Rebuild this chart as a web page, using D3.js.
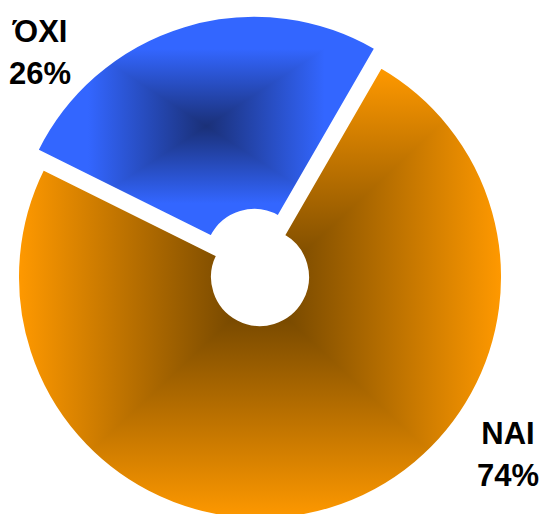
<!DOCTYPE html>
<html>
<head>
<meta charset="utf-8">
<script src="https://cdn.jsdelivr.net/npm/d3@7"></script>
<style>
  html, body { margin: 0; padding: 0; background: #fff; }
  svg { display: block; }
  .pie__label {
    font-family: "Liberation Sans", Arial, sans-serif;
    font-weight: bold;
    font-size: 31px;
    fill: #000;
    text-anchor: middle;
  }
</style>
</head>
<body>
<div id="chart"></div>
<script>
// Chart data
const categories = ["ΝΑΙ", "ΌΧΙ"];
const values = [74, 26];
const explodedSlices = ["ΌΧΙ"];

// Slice colours: light at the bounding box edges, dark in the middle
const edgeColors = { "ΝΑΙ": "#ff9900", "ΌΧΙ": "#3366ff" };
const centerColors = { "ΝΑΙ": "#684000", "ΌΧΙ": "#1a3078" };
// offset where the gradient reaches the edge colour
const edgeStop = { "ΝΑΙ": 1, "ΌΧΙ": 0.7 };

// Layout
const width = 541, height = 514;
const center = { x: 260, y: 277 };
const outerRadius = 242, innerRadius = 48;
const explodeOffset = 20;
const firstAngle = 30 * Math.PI / 180;

// Label anchors (the labels were placed by hand in the original)
const labelPos = {
  "ΝΑΙ": { x: 508, y: 444 },
  "ΌΧΙ": { x: 40, y: 42 }
};
const lineStep = 42;

const total = d3.sum(values);
const data = categories.map((c, i) => ({ name: c, value: values[i] }));

const svg = d3.select("#chart")
  .append("svg")
  .attr("width", width)
  .attr("height", height);

const defs = svg.append("defs");

const pie = d3.pie()
  .sort(null)
  .value(d => d.value)
  .startAngle(firstAngle)
  .endAngle(firstAngle + 2 * Math.PI);

const arc = d3.arc()
  .innerRadius(innerRadius)
  .outerRadius(outerRadius);

const gPie = svg.append("g")
  .attr("transform", `translate(${center.x},${center.y})`);

const arcs = pie(data);

arcs.forEach((d, i) => {
  const name = d.data.name;
  const mid = (d.startAngle + d.endAngle) / 2;
  const off = explodedSlices.includes(name) ? explodeOffset : 0;
  const g = gPie.append("g")
    .attr("transform", `translate(${Math.sin(mid) * off},${-Math.cos(mid) * off})`);

  // Clip path of the slice
  const clipId = "clip-" + i;
  defs.append("clipPath").attr("id", clipId)
    .append("path").attr("d", arc(d));

  // measure the slice
  const tmp = g.append("path").attr("d", arc(d)).attr("fill", "none");
  const bb = tmp.node().getBBox();
  tmp.remove();

  // Rectangular "from centre" gradient: four triangles, each with a linear gradient
  const x0 = bb.x, y0 = bb.y, x1 = bb.x + bb.width, y1 = bb.y + bb.height;
  const cx = (x0 + x1) / 2, cy = (y0 + y1) / 2;
  const tris = [
    { pts: [[x0, y0], [x1, y0], [cx, cy]], to: [cx, y0] },
    { pts: [[x1, y0], [x1, y1], [cx, cy]], to: [x1, cy] },
    { pts: [[x1, y1], [x0, y1], [cx, cy]], to: [cx, y1] },
    { pts: [[x0, y1], [x0, y0], [cx, cy]], to: [x0, cy] }
  ];

  const gFill = g.append("g").attr("clip-path", `url(#${clipId})`);

  // base fill so no seams show between the triangles
  gFill.append("rect")
    .attr("x", x0).attr("y", y0)
    .attr("width", bb.width).attr("height", bb.height)
    .attr("fill", d3.interpolateRgb(centerColors[name], edgeColors[name])(0.5));

  tris.forEach((t, j) => {
    const gradId = `grad-${i}-${j}`;
    const grad = defs.append("linearGradient")
      .attr("id", gradId)
      .attr("gradientUnits", "userSpaceOnUse")
      .attr("x1", cx).attr("y1", cy)
      .attr("x2", t.to[0]).attr("y2", t.to[1]);
    grad.append("stop").attr("offset", 0).attr("stop-color", centerColors[name]);
    grad.append("stop").attr("offset", edgeStop[name]).attr("stop-color", edgeColors[name]);
    gFill.append("path")
      .attr("d", d3.line()(t.pts) + "Z")
      .attr("fill", `url(#${gradId})`)
      .attr("shape-rendering", "crispEdges");
  });

  // White separator edge
  g.append("path")
    .attr("d", arc(d))
    .attr("fill", "none")
    .attr("stroke", "#fff")
    .attr("stroke-width", 2);
});

// Labels
arcs.forEach(d => {
  const p = labelPos[d.data.name];
  const pct = Math.round(d.value / total * 100) + "%";
  const t = svg.append("text")
    .attr("class", "pie__label");
  t.append("tspan").attr("x", p.x).attr("y", p.y).text(d.data.name);
  t.append("tspan").attr("x", p.x).attr("y", p.y + lineStep).text(pct);
});
</script>
</body>
</html>
